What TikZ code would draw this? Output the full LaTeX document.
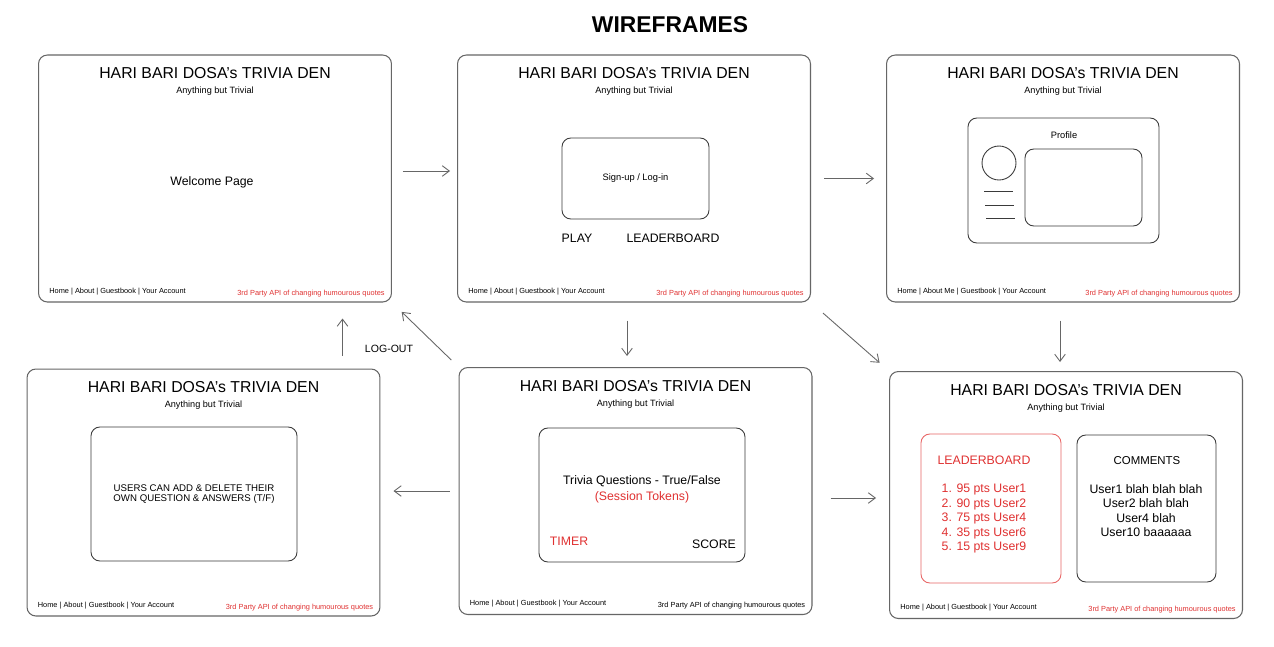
\documentclass[tikz,border=0pt]{standalone}
\usepackage{fontspec}
\setmainfont{Liberation Sans}
\usetikzlibrary{arrows.meta}

\definecolor{xred}{HTML}{E03131}
\definecolor{xgray}{HTML}{666666}
\definecolor{xdark}{HTML}{3A3A3A}

\tikzset{
  frame/.style={draw=xgray, line width=0.6pt, rounded corners=5pt, minimum width=7.06cm, minimum height=4.94cm, inner sep=0pt},
  panel/.style={draw=xdark, line width=0.5pt, rounded corners=5pt, inner sep=0pt},
  flow/.style={draw=xgray, line width=0.5pt, -{Straight Barb[length=4pt,width=6pt]}},
  head/.style={font=\fontsize{13}{15}\selectfont\bfseries},
  apptitle/.style={font=\fontsize{9}{10}\selectfont, inner sep=0pt},
  tagline/.style={font=\fontsize{5.2}{6}\selectfont, inner sep=0pt},
  navbar/.style={font=\fontsize{4.2}{5}\selectfont, inner sep=0pt},
  body/.style={font=\fontsize{7}{8.2}\selectfont, inner sep=0pt, align=center},
  small/.style={font=\fontsize{5.3}{6}\selectfont, inner sep=0pt, align=center}
}

\begin{document}
\begin{tikzpicture}[x=0.02cm, y=-0.02cm]
    \useasboundingbox (0,0) rectangle (1274,646);
    \fill[white] (0,0) rectangle (1274,646);
    \node[head] (heading) at (670,25) {WIREFRAMES};

    % page frames, each with header and footer
    \foreach \n/\x/\y/\ab/\qc in {f1/215/178.5/About/xred, f2/634/178.5/About/xred, f3/1063/178.5/About Me/xred,
                                   f4/203.5/492.5/About/xred, f5/635.5/491/About/black, f6/1066/495/About/xred}{
        \node[frame] (\n) at (\x,\y) {};
        \node[apptitle] (\n-title) at (\x,\y-105) {HARI BARI DOSA's TRIVIA DEN};
        \node[tagline] (\n-tag) at (\x,\y-87) {Anything but Trivial};
        \node[navbar, anchor=west] (\n-nav) at (\x-166,\y+113) {Home | \ab{} | Guestbook | Your Account};
        \node[navbar, anchor=east, text=\qc] (\n-api) at (\x+170,\y+115) {3rd Party API of changing humourous quotes};
    }

    % welcome
    \node[body] (welcome) at (212,182) {Welcome Page};

    % login
    \node[panel, small, minimum width=2.94cm, minimum height=1.62cm] (login) at (635.5,178.5) {Sign-up / Log-in};
    \node[body] (play) at (577,238) {PLAY};
    \node[body] (board) at (673,238) {LEADERBOARD};

    % profile
    \node[panel, minimum width=3.82cm, minimum height=2.5cm] (profile) at (1063.5,180.5) {};
    \node[small] (profile-t) at (1064,135) {Profile};
    \node[draw=xdark, line width=0.5pt, circle, minimum size=0.68cm, inner sep=0pt] (avatar) at (999,163) {};
    \draw[xdark, line width=0.5pt] (984,191) -- (1013,191) (985,205) -- (1014,205) (986,218) -- (1015,218);
    \node[panel, minimum width=2.34cm, minimum height=1.54cm] (bio) at (1083.5,187.5) {};

    % add questions
    \node[panel, small, font=\fontsize{5.5}{6}\selectfont, minimum width=4.12cm, minimum height=2.68cm] (addq) at (194,494)
        {USERS CAN ADD \& DELETE THEIR\\OWN QUESTION \& ANSWERS (T/F)};

    % trivia
    \node[panel, minimum width=4.12cm, minimum height=2.68cm] (quiz) at (642,495) {};
    \node[body] (quiz-q) at (642,481) {Trivia Questions - True/False};
    \node[body, text=xred] (quiz-s) at (642,497) {(Session Tokens)};
    \node[body, text=xred] (timer) at (569,541) {TIMER};
    \node[body] (score) at (714,544) {SCORE};

    % leaderboard and comments
    \node[panel, draw=xred!75, minimum width=2.8cm, minimum height=2.98cm] (ranks) at (991,508.5) {};
    \node[body, text=xred] (ranks-t) at (984,460) {LEADERBOARD};
    \node[body, text=xred, anchor=north] (ranks-l) at (984,484)
        {1. 95 pts User1\\2. 90 pts User2\\3. 75 pts User4\\4. 35 pts User6\\5. 15 pts User9};
    \node[panel, minimum width=2.78cm, minimum height=2.94cm] (notes) at (1146.5,508.5) {};
    \node[body, font=\fontsize{6.5}{8}\selectfont] (notes-t) at (1147,461) {COMMENTS};
    \node[body, anchor=north] (notes-l) at (1146,484)
        {User1 blah blah blah\\User2 blah blah\\User4 blah\\User10 baaaaaa};

    % page flow
    \draw[flow, shorten <=0.22cm, shorten >=0.14cm] ([yshift=0.15cm]f1.east) -- ([yshift=0.15cm]f1.east -| f2.west);
    \draw[flow, shorten <=0.26cm, shorten >=0.24cm] (f2.east) -- (f2.east -| f3.west);
    \draw[flow, shorten <=0.36cm, shorten >=0.22cm] ([xshift=-0.14cm]f2.south) -- ([xshift=-0.14cm]f2.south |- f5.north);
    \draw[flow, shorten <=0.32cm, shorten >=0.25cm] (f2.south east) -- (f6.north west);
    \draw[flow, shorten <=0.36cm, shorten >=0.18cm] ([xshift=-0.06cm]f3.south) -- ([xshift=-0.06cm]f3.south |- f6.north);
    \draw[flow, shorten <=0.18cm, shorten >=0.26cm] (f5.west) -- (f5.west -| f4.east);
    \draw[flow, shorten <=0.36cm, shorten >=0.26cm] ([yshift=-0.14cm]f5.east) -- ([yshift=-0.14cm]f5.east -| f6.west);
    \draw[flow, shorten <=0.26cm, shorten >=0.32cm] ([xshift=-0.76cm]f4.north east) -- ([xshift=-0.76cm]f4.north east |- f1.south);
    \draw[flow, shorten <=0.2cm, shorten >=0.27cm] (f5.north west) -- (f1.south east);
    \node[font=\fontsize{6}{7}\selectfont] (logout) at (389,349) {LOG-OUT};
\end{tikzpicture}
\end{document}
